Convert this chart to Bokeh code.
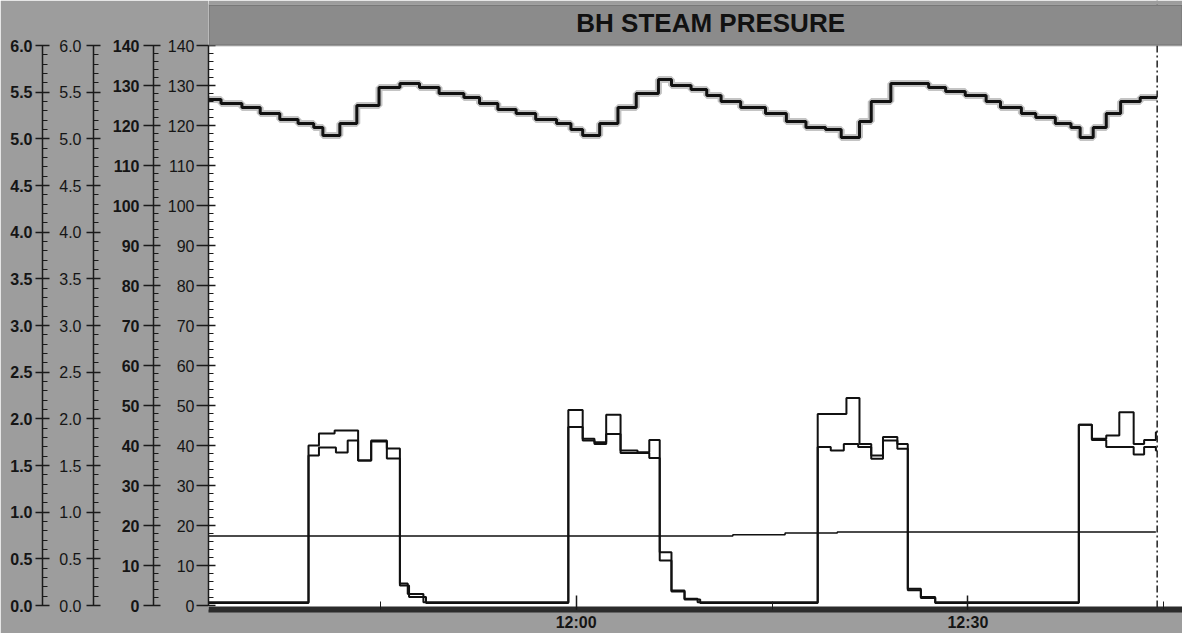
from bokeh.plotting import figure
from bokeh.models import (Range1d, LinearAxis, SingleIntervalTicker, PrintfTickFormatter,
                          BoxAnnotation, Span, Label)
from bokeh.embed import file_html
from bokeh.resources import INLINE

# ---------------- data (time = minutes after 11:00) ----------------
title_text = "BH STEAM PRESURE"
date_text = "13 Tue Nov 2012"
x_tick_labels = {60: "12:00", 90: "12:30"}

steam_t = [31.8, 32.8, 34.4, 35.8, 37.3, 38.7, 39.9, 40.6, 41.9, 43.2, 44.9, 46.5, 48.0, 49.5,
           51.4, 52.6, 54.0, 55.4, 56.9, 58.5, 59.6, 60.5, 61.8, 63.2, 64.6, 66.3, 67.3, 68.8,
           70.0, 71.1, 72.6, 74.5, 76.1, 77.6, 79.1, 80.3, 81.7, 82.6, 84.1, 87.0, 88.3, 89.8,
           91.4, 92.5, 94.1, 95.2, 96.7, 97.9, 98.6, 99.6, 100.6, 101.7, 103.2, 104.5]
steam_v = [126.5, 125.5, 124.5, 123, 121.5, 120.5, 119.5, 117.5, 120.5, 125, 129.5, 130.5, 129.5, 128,
           127, 125.5, 124, 123, 121.5, 120.5, 119, 117.5, 120.5, 124.5, 128, 131.5, 130, 129,
           127.5, 126, 124.5, 123, 121, 119.5, 119, 117, 121, 126, 130.5, 129.5, 128.5, 127.5,
           126, 124.5, 123, 122, 120.5, 119.5, 117, 119.5, 123, 126, 127, 127]

pump_a_t = [31.8, 39.5, 40.3, 41.5, 43.3, 44.3, 45.5, 46.5, 47.1, 48.3,
            59.4, 60.5, 61.4, 62.3, 63.4, 64.7, 65.6, 66.4, 67.3, 68.3, 69.3,
            78.5, 80.7, 81.7, 82.6, 83.5, 84.6, 85.4, 86.4, 87.5,
            98.5, 99.5, 100.6, 101.6, 102.7, 103.5, 104.4, 104.5]
pump_a_v = [0.8, 40, 43, 43.75, 36.25, 41.25, 39.25, 5.5, 2.9, 0.8,
            48.9, 41.7, 40.8, 47.7, 38.75, 38.3, 41.4, 13.3, 3.75, 1.7, 0.8,
            47.9, 51.9, 40.4, 37.5, 42.1, 40.4, 4.2, 2.1, 0.8,
            45.2, 41.7, 42.5, 48.3, 40.4, 41.4, 43.3, 43.3]

pump_b_t = [31.8, 39.5, 40.3, 41.6, 42.5, 43.3, 44.3, 45.5, 46.5, 47.2, 48.5,
            59.4, 60.5, 61.4, 62.3, 63.4, 65.6, 66.4, 67.3, 68.3, 69.5,
            78.5, 79.5, 80.5, 81.6, 82.6, 83.5, 84.6, 85.4, 86.4, 87.5,
            98.5, 99.5, 100.6, 102.7, 103.5, 104.4, 104.5]
pump_b_v = [0.6, 37.5, 39.5, 38.25, 41.25, 36.25, 41, 36.75, 5.0, 2.1, 0.6,
            44.6, 41.25, 40.4, 42.9, 38.1, 36.9, 11.25, 3.5, 1.5, 0.6,
            39.6, 38.75, 40.4, 39.6, 36.7, 41.25, 39.2, 3.8, 1.9, 0.6,
            45.2, 41.4, 39.6, 37.75, 39.6, 38.75, 38.75]

flow_t = [31.8, 68.0, 72.0, 76.0, 80.0, 104.4]
flow_v = [17.4, 17.4, 17.7, 18.1, 18.4, 18.4]

cursor_t = 104.5

# ---------------- figure ----------------
X0, X1 = 31.84, 106.44
Y0, Y1 = -1.0, 151.25
GRAY = "#9d9d9d"

p = figure(width=1182, height=633, x_range=Range1d(X0, X1), y_range=Range1d(Y0, Y1),
           output_backend="svg", toolbar_location=None,
           min_border_left=0, min_border_right=0, min_border_top=0, min_border_bottom=24,
           background_fill_color="white", border_fill_color=GRAY, outline_line_color=None)
p.title.visible = False
p.grid.visible = False
p.extra_y_ranges = {"r6": Range1d(Y0 * 6 / 140, Y1 * 6 / 140)}

FONT = "Liberation Sans"


def style_axis(ax, bold, tick_out, standoff, pad):
    ax.axis_line_color = "#1a1a1a"
    ax.axis_line_width = 1.5
    ax.major_tick_line_color = "#1a1a1a"
    ax.minor_tick_line_color = "#1a1a1a"
    ax.major_tick_line_width = 1.5
    ax.minor_tick_line_width = 1.2
    ax.major_tick_out = tick_out
    ax.major_tick_in = 7
    ax.minor_tick_out = 0
    ax.minor_tick_in = 5
    ax.major_label_standoff = standoff
    ax.major_label_text_font = FONT
    ax.major_label_text_font_size = "16px"
    ax.major_label_text_font_style = "bold" if bold else "normal"
    ax.major_label_text_color = "#151515"
    ax.axis_label = " "
    ax.axis_label_text_font_size = "1px"
    ax.axis_label_standoff = pad


# axis nearest to the frame: 0-140
ax4 = p.yaxis[0]
ax4.ticker = SingleIntervalTicker(interval=10, num_minor_ticks=5)
ax4.bounds = (0, 140)
style_axis(ax4, False, 12, 2, 7)

ax3 = LinearAxis(ticker=SingleIntervalTicker(interval=10, num_minor_ticks=5), bounds=(0, 140))
style_axis(ax3, True, 10, 4, 12)
p.add_layout(ax3, "left")

ax2 = LinearAxis(y_range_name="r6", ticker=SingleIntervalTicker(interval=0.5, num_minor_ticks=5),
                 formatter=PrintfTickFormatter(format="%.1f"), bounds=(0, 6))
style_axis(ax2, False, 7, 5, 10)
p.add_layout(ax2, "left")

ax1 = LinearAxis(y_range_name="r6", ticker=SingleIntervalTicker(interval=0.5, num_minor_ticks=5),
                 formatter=PrintfTickFormatter(format="%.1f"), bounds=(0, 6))
style_axis(ax1, True, 7, 3, 3)
p.add_layout(ax1, "left")

# x axis
xa = p.xaxis[0]
xa.ticker = SingleIntervalTicker(interval=30, num_minor_ticks=2)
xa.major_label_overrides = x_tick_labels
xa.axis_line_color = "#2b2b2b"
xa.axis_line_width = 6
xa.major_tick_in = 14
xa.major_tick_out = 0
xa.minor_tick_in = 8
xa.minor_tick_out = 0
xa.major_tick_line_color = "#1a1a1a"
xa.minor_tick_line_color = "#1a1a1a"
xa.major_tick_line_width = 1.5
xa.major_label_standoff = 4
xa.major_label_text_font = FONT
xa.major_label_text_font_size = "16px"
xa.major_label_text_font_style = "bold"
xa.major_label_text_color = "#151515"

# data
p.step(flow_t, flow_v, mode="after", line_color="#111111", line_width=1.5)
p.step(pump_b_t, pump_b_v, mode="after", line_color="#111111", line_width=2)
p.step(pump_a_t, pump_a_v, mode="after", line_color="#111111", line_width=2)
p.step(steam_t, steam_v, mode="after", line_color="#c4c4c4", line_width=7)
p.step(steam_t, steam_v, mode="after", line_color="#111111", line_width=3)

p.add_layout(Span(location=cursor_t, dimension="height", line_color="#222222",
                  line_width=1.5, line_dash="7 3 2 3"))

# title bar over the frame
p.add_layout(BoxAnnotation(bottom=140, top=150.2, fill_color="#8b8b8b", fill_alpha=1,
                           line_color="#3a3a3a", line_width=2))
p.add_layout(BoxAnnotation(bottom=150.2, fill_color=GRAY, fill_alpha=1, line_color=None))
p.add_layout(Label(x=70.3, y=145.75, text=title_text, text_align="center", text_baseline="middle",
                   text_font=FONT, text_font_size="26px", text_font_style="bold",
                   text_color="#111111"))

p.add_layout(Label(x=-182, y=-8, x_units="screen", y_units="screen", text=date_text,
                   text_align="left", text_baseline="top", text_font=FONT,
                   text_font_size="12px", text_font_style="bold", text_color="#222222"))

open("out.html", "w").write(file_html(p, INLINE))
